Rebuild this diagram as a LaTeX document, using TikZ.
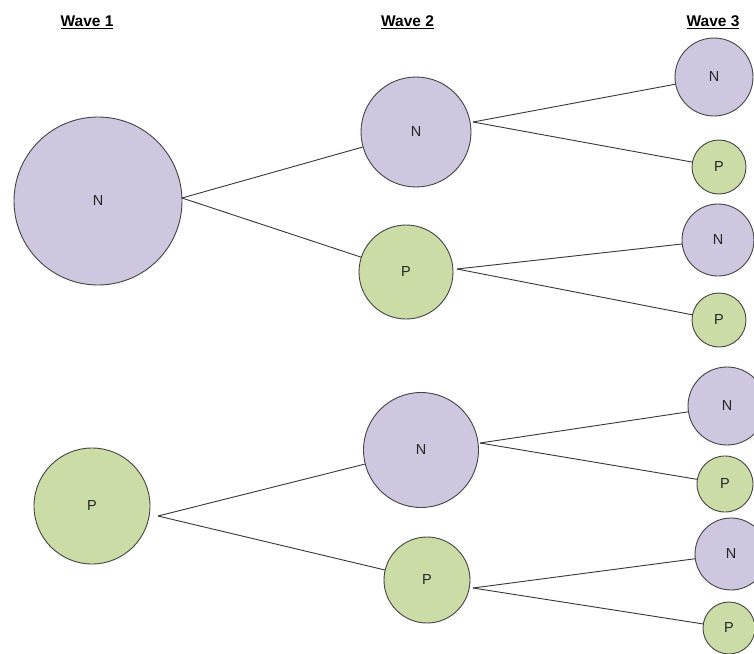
\documentclass[tikz,border=0pt]{standalone}
\usepackage{fontspec}
\setmainfont{Liberation Sans}
\definecolor{nfill}{RGB}{207,198,224}
\definecolor{pfill}{RGB}{203,220,167}
\definecolor{rim}{RGB}{68,68,68}
\definecolor{link}{RGB}{55,55,55}
\tikzset{
  wave/.style={anchor=base,font=\bfseries\fontsize{15.5}{18}\selectfont},
  state/.style={circle,draw=rim,line width=0.9pt,inner sep=0pt,text=black!85,font=\fontsize{14.5}{16}\selectfont},
  nstate/.style={state,fill=nfill},
  pstate/.style={state,fill=pfill}
}
\begin{document}
\begin{tikzpicture}[x=1pt,y=-1pt]
\useasboundingbox (0,0) rectangle (754,653);
\fill[white] (0,0) rectangle (754,653);

% headings
\node[wave] (wave1) at (87,27) {\underline{Wave 1}};
\node[wave] (wave2) at (407.5,27) {\underline{Wave 2}};
\node[wave] (wave3) at (713,27) {\underline{Wave 3}};

% wave 1
\node[nstate,minimum size=168] (w1n) at (98,201) {N};
\node[pstate,minimum size=116] (w1p) at (92,506) {P};

% wave 2
\node[nstate,minimum size=110] (w2na) at (416,132) {N};
\node[pstate,minimum size=94] (w2pa) at (406,272) {P};
\node[nstate,minimum size=115] (w2nb) at (421,450) {N};
\node[pstate,minimum size=86] (w2pb) at (427,580) {P};

% wave 3
\node[nstate,minimum size=78] (w3na) at (714,77) {N};
\node[pstate,minimum size=54] (w3pa) at (719,167) {P};
\node[nstate,minimum size=72] (w3nb) at (718,240) {N};
\node[pstate,minimum size=54] (w3pb) at (719,320) {P};
\node[nstate,minimum size=78] (w3nc) at (727,406) {N};
\node[pstate,minimum size=56] (w3pc) at (725,484) {P};
\node[nstate,minimum size=72] (w3nd) at (731,554) {N};
\node[pstate,minimum size=52] (w3pd) at (729,628) {P};

% branch points
\coordinate (w1n-o) at (182,198);
\coordinate (w1p-o) at (158,516);
\coordinate (w2na-o) at (473,122);
\coordinate (w2pa-o) at (457,269);
\coordinate (w2nb-o) at (480,443);
\coordinate (w2pb-o) at (473,588);

\begin{scope}[draw=link,line width=0.9pt]
	\path [-] (w1n-o) edge (w2na);
	\path [-] (w1n-o) edge (w2pa);
	\path [-] (w1p-o) edge (w2nb);
	\path [-] (w1p-o) edge (w2pb);

	\path [-] (w2na-o) edge (w3na);
	\path [-] (w2na-o) edge (w3pa);
	\path [-] (w2pa-o) edge (w3nb);
	\path [-] (w2pa-o) edge (w3pb);
	\path [-] (w2nb-o) edge (w3nc);
	\path [-] (w2nb-o) edge (w3pc);
	\path [-] (w2pb-o) edge (w3nd);
	\path [-] (w2pb-o) edge (w3pd);
\end{scope}

\end{tikzpicture}
\end{document}
